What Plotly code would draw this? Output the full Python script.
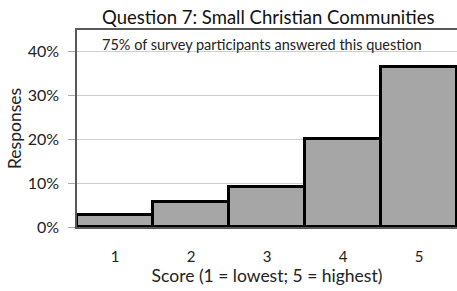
import plotly.graph_objects as go

categories = ["1", "2", "3", "4", "5"]
responses = [0.028, 0.057, 0.091, 0.200, 0.365]
y_ticks = [0, 0.1, 0.2, 0.3, 0.4]
y_tick_labels = ["0%", "10%", "20%", "30%", "40%"]

FONT = "Lato"

fig = go.Figure(go.Bar(
    x=categories, y=responses,
    marker=dict(color="#a6a6a6", line=dict(color="black", width=3)),
    width=1.0,
))

fig.update_layout(
    width=457, height=291,
    margin=dict(l=77, r=0, t=30, b=64, pad=0, autoexpand=False),
    paper_bgcolor="white", plot_bgcolor="white",
    bargap=0,
    showlegend=False,
    font=dict(family=FONT, color="#222", size=15),
    title=dict(text="Question 7: Small Christian Communities", x=0.587, xanchor="center",
               y=0.94, yanchor="middle", font=dict(size=18.5, family=FONT, color="#111")),
    xaxis=dict(range=[-0.5, 4.5], showgrid=False, showline=True, linecolor="#595959",
               linewidth=1.5, mirror=True, ticks="", tickfont=dict(size=15), automargin=False,
               ticklabelstandoff=15,
               title=dict(text="Score (1 = lowest; 5 = highest)", font=dict(size=17.5), standoff=5)),
    yaxis=dict(range=[0, 0.448], tickvals=y_ticks, ticktext=y_tick_labels,
               showgrid=True, gridcolor="#cfcfcf", gridwidth=1,
               showline=True, linecolor="#595959", linewidth=1.5, mirror=True,
               ticks="outside", ticklen=7, tickcolor="#aaa", tickfont=dict(size=16),
               ticklabelstandoff=6,
               zeroline=False, automargin=False,
               title=dict(text="Responses", font=dict(size=17.5), standoff=2)),
    annotations=[dict(text="75% of survey participants answered this question",
                      xref="paper", yref="paper", x=0.06, y=0.98, xanchor="left", yanchor="top",
                      showarrow=False, font=dict(size=14.5, family=FONT, color="#222"))],
)

fig.write_html("out.html", config={"displayModeBar": False},
               post_script="document.body.style.margin='0';document.body.style.overflow='hidden';")
